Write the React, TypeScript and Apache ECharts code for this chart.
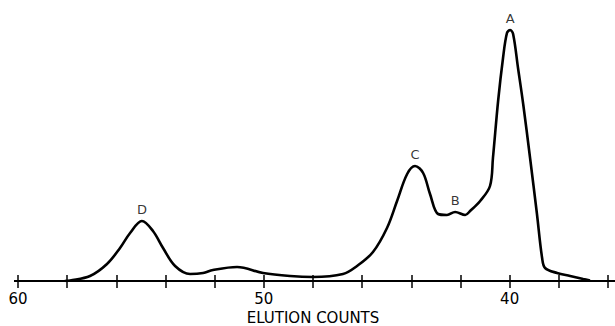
import React, { useEffect, useRef } from "react";
import * as echarts from "echarts";

// Elution profile: detector response against elution count
const elutionCounts: number[] = [
  58.1, 57.88, 57.07, 56.38, 55.85, 55.44, 54.96, 54.51, 54.1, 53.61, 53.0,
  52.47, 52.07, 51.09, 50.03, 48.93, 48.0, 46.78, 46.21, 45.56, 44.99, 44.58,
  44.17, 43.85, 43.52, 43.24, 42.91, 42.55, 42.22, 41.81, 41.61, 41.2, 40.8,
  40.68, 40.47, 40.27, 40.11, 39.98, 39.86, 39.66, 39.45, 39.17, 38.89, 38.68,
  38.56, 38.07, 37.54, 37.01, 36.73,
];
const response: number[] = [
  0, 0.5, 5, 17, 33, 48, 60, 50, 33, 15, 7, 8, 11, 14, 8, 5, 4, 7, 15, 29, 53,
  80, 107, 115, 108, 87, 67, 66, 69, 66, 70, 80, 95, 123, 180, 223, 248, 251,
  247, 213, 177, 123, 67, 23, 13, 8, 5, 2, 0.5,
];
// Peak names keyed by the elution count of each peak maximum
const peakLabels: [number, string][] = [
  [39.98, "A"],
  [42.22, "B"],
  [43.85, "C"],
  [54.96, "D"],
];
const labeledTicks: number[] = [60, 50, 40];

const FONT = "'DejaVu Sans', 'Liberation Sans', sans-serif";
const TICK_RISE = 6; // ticks cross the baseline, reaching this far above it

export default function App() {
  const ref = useRef<HTMLDivElement>(null);

  useEffect(() => {
    document.body.style.margin = "0";
    if (!ref.current) return;
    const chart = echarts.init(ref.current, undefined, { renderer: "svg" });

    const curve = elutionCounts.map((c, i) => [c, response[i]]);
    const peaks = peakLabels.map(([c, name]) => {
      const i = elutionCounts.indexOf(c);
      return { value: [c, response[i]], name };
    });

    chart.setOption({
      animation: false,
      backgroundColor: "#fff",
      grid: {
        left: 18,
        right: 7,
        top: 1,
        bottom: 45,
        containLabel: false,
        outerBoundsMode: "none",
      },
      xAxis: {
        type: "value",
        min: 36,
        max: 60,
        interval: 2,
        inverse: true,
        offset: -TICK_RISE,
        splitLine: { show: false },
        axisLine: { show: false },
        axisTick: {
          show: true,
          inside: false,
          length: 13,
          lineStyle: { color: "#000", width: 1.5 },
        },
        axisLabel: {
          show: true,
          margin: 16,
          color: "#000",
          fontFamily: FONT,
          fontSize: 15,
          formatter: (v: number) => (labeledTicks.includes(v) ? String(v) : ""),
        },
        name: "ELUTION COUNTS",
        nameLocation: "middle",
        nameGap: 35,
        nameTextStyle: { color: "#000", fontFamily: FONT, fontSize: 15 },
      },
      yAxis: {
        type: "value",
        min: 0,
        max: 280,
        show: false,
        splitLine: { show: false },
      },
      graphic: [
        {
          type: "line",
          shape: { x1: 14, y1: 281, x2: 615, y2: 281 },
          style: { stroke: "#000", lineWidth: 1.8 },
          z: 0,
        },
      ],
      series: [
        {
          type: "line",
          data: curve,
          smooth: 0.35,
          symbol: "none",
          lineStyle: { color: "#000", width: 2.6 },
          z: 3,
        },
        {
          type: "scatter",
          data: peaks,
          symbolSize: 1,
          itemStyle: { color: "transparent" },
          label: {
            show: true,
            position: "top",
            distance: 5,
            formatter: (p: any) => p.name,
            color: "#000",
            fontFamily: FONT,
            fontSize: 13,
          },
          z: 4,
        },
      ],
    });

    return () => chart.dispose();
  }, []);

  return <div ref={ref} style={{ width: 615, height: 326 }} />;
}
